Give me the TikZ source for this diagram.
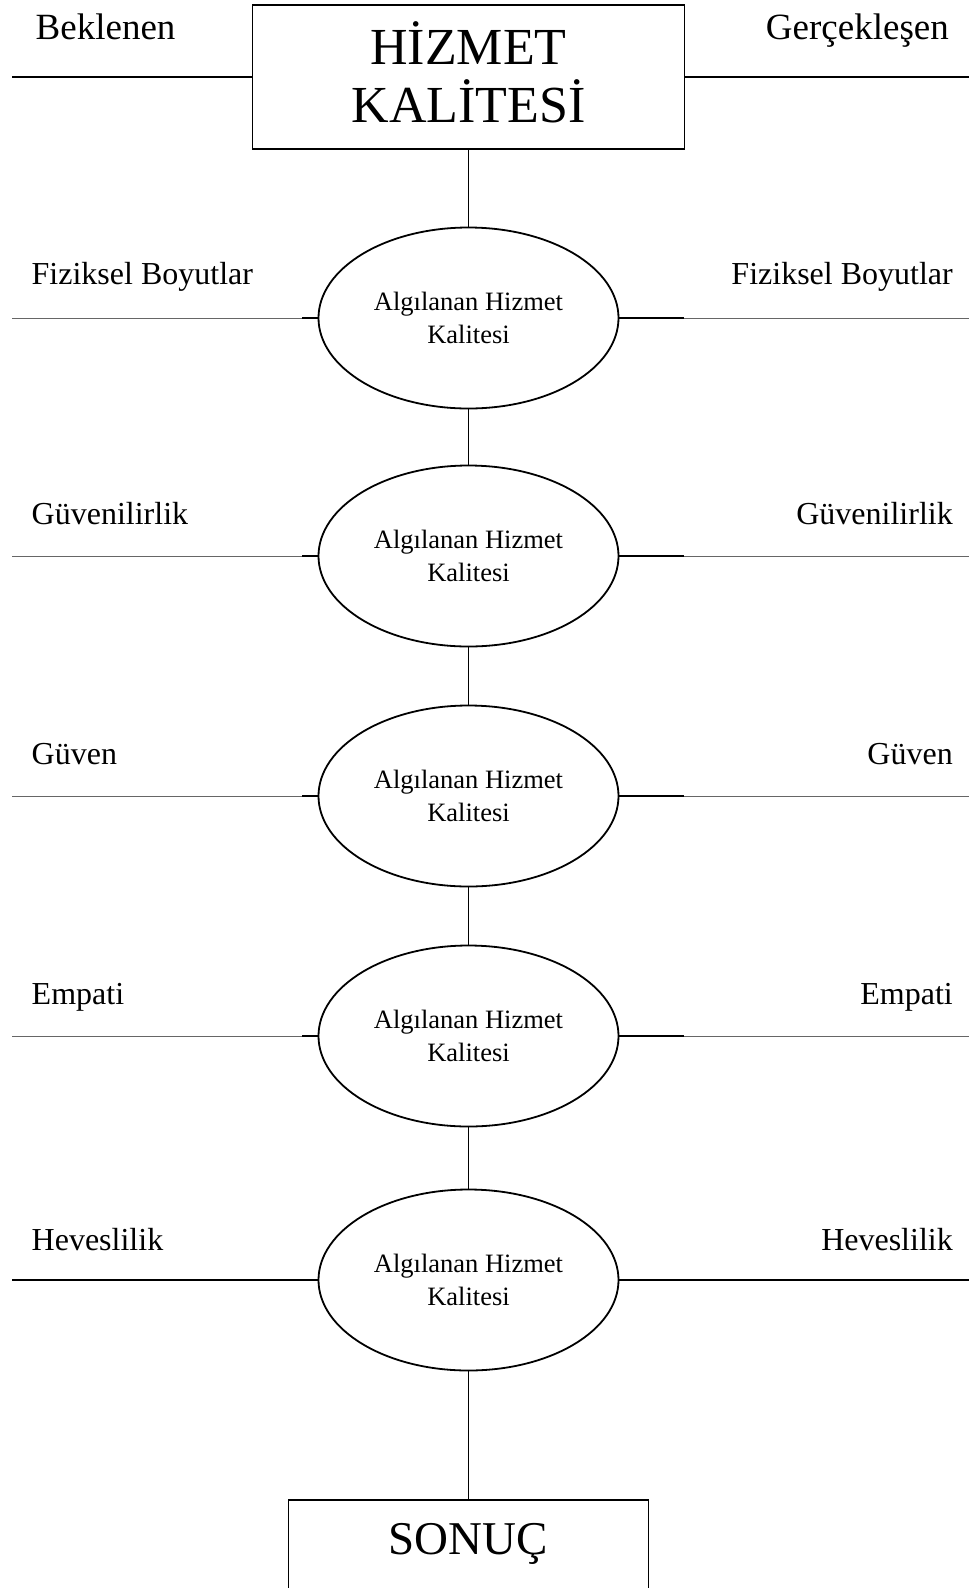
\documentclass[tikz,border=0pt]{standalone}
\usepackage{fontspec}
\setmainfont{Liberation Serif}
\usetikzlibrary{shapes.geometric}
\begin{document}
\begin{tikzpicture}[x=1pt,y=-1pt,
  thickline/.style={line width=1.8pt, black},
  thinline/.style={line width=0.9pt, black!60},
  ell/.style={ellipse, draw, line width=1.8pt, minimum width=300pt, minimum height=181pt, inner sep=0pt, align=center, font=\fontsize{26.5}{32.4}\selectfont},
  lbl/.style={font=\fontsize{32}{38}\selectfont, inner sep=0pt},
  toplbl/.style={font=\fontsize{37}{44}\selectfont, inner sep=0pt},
  bigbox/.style={draw, line width=1.8pt, rectangle, inner sep=0pt}]
\useasboundingbox (0,0) rectangle (969,1588);
\clip (0,0) rectangle (969,1588);
% top box
\node[bigbox, minimum width=432pt, minimum height=144pt, align=center,
  font=\fontsize{52}{58.7}\selectfont] (hk) at (468.5,77) {HİZMET\\KALİTESİ\rule[-10pt]{0pt}{0pt}};
\node[toplbl, anchor=base west] (bek) at (35.5,39.5) {Beklenen};
\node[toplbl, anchor=base east] (ger) at (949,39.5) {Gerçekleşen};
\coordinate (tl) at (12,77);
\coordinate (tr) at (969,77);
\draw[thickline] (tl) -- (hk.west);
\draw[thickline] (hk.east) -- (tr);
% ellipses
\foreach \i/\y/\b/\t in {1/318/284.5/Fiziksel Boyutlar, 2/556/524.5/Güvenilirlik, 3/796/764.5/Güven, 4/1036/1004/Empati, 5/1280/1250.5/Heveslilik}{
  \node[ell] (e\i) at (468.5,\y) {Algılanan Hizmet\\Kalitesi};
  \node[lbl, anchor=base west] (ll\i) at (31.5,\b) {\t};
  \node[lbl, anchor=base east] (rl\i) at (953,\b) {\t};
  \coordinate (l\i) at (12,\y);
  \coordinate (r\i) at (969,\y);
}
\foreach \i/\y in {1/318, 2/556, 3/796, 4/1036}{
  \coordinate (ml\i) at (302,\y);
  \coordinate (mr\i) at (684,\y);
  \draw[thinline] (l\i) -- (ml\i);
  \draw[thickline] (ml\i) -- (e\i.west);
  \draw[thickline] (e\i.east) -- (mr\i);
  \draw[thinline] (mr\i) -- (r\i);
}
\draw[thickline] (l5) -- (e5.west);
\draw[thickline] (e5.east) -- (r5);
% vertical connectors
\draw[thickline] (hk.south) -- (e1.north);
\draw[thickline] (e1.south) -- (e2.north);
\draw[thickline] (e2.south) -- (e3.north);
\draw[thickline] (e3.south) -- (e4.north);
\draw[thickline] (e4.south) -- (e5.north);
% bottom box
\node[bigbox, minimum width=360pt, minimum height=120pt, anchor=north] (sb) at (468.5,1499) {};
\node[font=\fontsize{47}{52}\selectfont, inner sep=0pt] (sonuc) at (468.5,1544) {SONUÇ};
\draw[thickline] (e5.south) -- (sb.north);
\end{tikzpicture}
\end{document}
